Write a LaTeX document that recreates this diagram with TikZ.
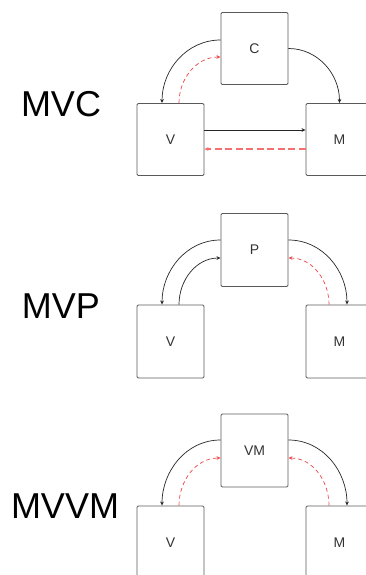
\documentclass[tikz,border=0pt]{standalone}
\usepackage{fontspec}
\setmainfont{Liberation Sans}
\usetikzlibrary{arrows.meta}
\definecolor{boxgray}{HTML}{5A5A5A}
\definecolor{retred}{HTML}{F04545}
\definecolor{retpink}{HTML}{F27070}
\tikzset{
  unitbox/.style={draw=boxgray, line width=0.9pt, rounded corners=1.2pt,
    minimum width=67pt, minimum height=73pt, inner sep=0pt,
    font=\fontsize{14}{16}\selectfont, text=black!80},
  title/.style={font=\fontsize{36}{40}\selectfont, text=black, inner sep=0pt},
  call/.style={draw=black!85, line width=0.7pt, -{Stealth[length=4pt,width=3.6pt]}},
  reply/.style={color=retred, line width=0.7pt, dash pattern=on 4pt off 3pt,
    -{Stealth[length=4pt,width=3.6pt]}},
  replywide/.style={color=retpink, line width=1.1pt, dash pattern=on 7pt off 3.5pt,
    -{Stealth[length=4pt,width=3.8pt]}},
}
\begin{document}
\begin{tikzpicture}[x=1pt, y=-1pt]
\useasboundingbox (0,0) rectangle (366,575);

% ---- MVC ----
\node[title] (tMVC) at (61,104) {MVC};
\node[unitbox, minimum height=72pt] (C)  at (254.5,48.5)  {C};
\node[unitbox, minimum height=72pt] (V1) at (170.5,139.5) {V};
\node[unitbox, minimum height=72pt] (M1) at (339.5,139.5) {M};
\draw[call]  ([yshift=8.5]C.west) to[out=180,in=90] ([xshift=-8.5]V1.north);
\draw[reply] ([xshift=8.5]V1.north) to[out=90,in=180] ([yshift=-8.5]C.west);
\draw[call]  (C.east) to[out=0,in=90] (M1.north);
\draw[call]  ([yshift=9.5]V1.east) -- ([yshift=9.5]M1.west);
\draw[replywide] ([yshift=-9.5]M1.west) -- ([yshift=-9.5]V1.east);

% ---- MVP ----
\node[title] (tMVP) at (61,306.5) {MVP};
\node[unitbox] (P)  at (254.5,250)   {P};
\node[unitbox] (V2) at (170.5,341.5) {V};
\node[unitbox] (M2) at (339.5,341.5) {M};
\draw[call]  ([yshift=10]P.west) to[out=180,in=90] ([xshift=-8.5]V2.north);
\draw[call]  ([xshift=8.5]V2.north) to[out=90,in=180] ([yshift=-8]P.west);
\draw[call]  ([yshift=10]P.east) to[out=0,in=90] ([xshift=7.5]M2.north);
\draw[reply] ([xshift=-10.5]M2.north) to[out=90,in=0] ([yshift=-8]P.east);

% ---- MVVM ----
\node[title] (tMVVM) at (65,506.5) {MVVM};
\node[unitbox] (VM) at (254.5,450.5) {VM};
\node[unitbox] (V3) at (170.5,542.5) {V};
\node[unitbox] (M3) at (339.5,542.5) {M};
\draw[call]  ([yshift=10.5]VM.west) to[out=180,in=90] ([xshift=-8.5]V3.north);
\draw[reply] ([xshift=8.5]V3.north) to[out=90,in=180] ([yshift=-7.5]VM.west);
\draw[call]  ([yshift=10.5]VM.east) to[out=0,in=90] ([xshift=7.5]M3.north);
\draw[reply] ([xshift=-10.5]M3.north) to[out=90,in=0] ([yshift=-7.5]VM.east);
\end{tikzpicture}
\end{document}
